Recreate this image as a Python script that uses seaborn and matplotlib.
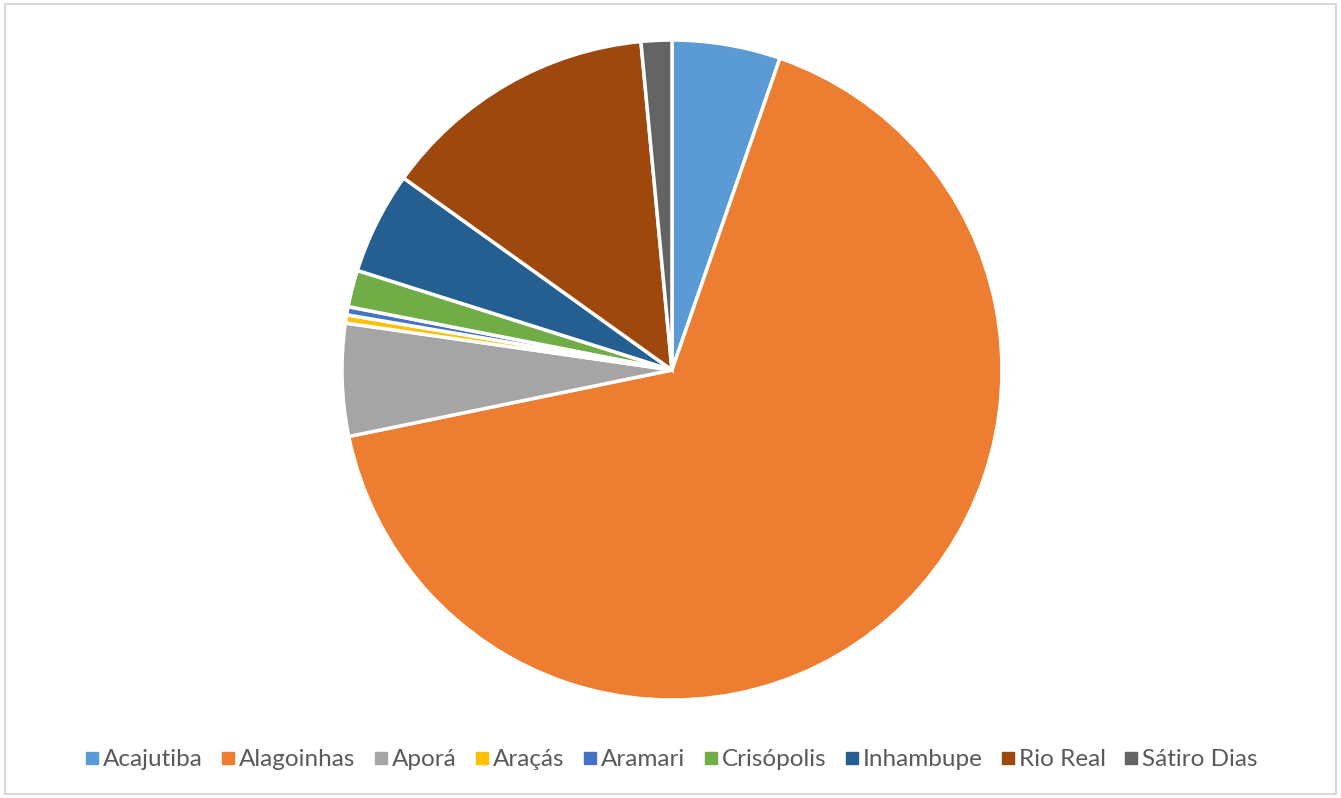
import seaborn as sns
import matplotlib.pyplot as plt
from matplotlib.patches import Rectangle
from matplotlib.lines import Line2D

# Data (shares in %)
cities = ['Acajutiba', 'Alagoinhas', 'Aporá', 'Araçás', 'Aramari',
          'Crisópolis', 'Inhambupe', 'Rio Real', 'Sátiro Dias']
shares = [5.3, 66.4, 5.5, 0.4, 0.4, 1.8, 5.0, 13.6, 1.5]
colors = ['#5B9BD5', '#ED7D31', '#A5A5A5', '#FFC000', '#4472C4',
          '#70AD47', '#255E91', '#9E480E', '#636363']

sns.set_theme(style='white')
plt.rcParams['font.family'] = ['Lato', 'DejaVu Sans']

fig = plt.figure(figsize=(13.41, 7.98), dpi=100)
fig.patches.append(Rectangle((0.004, 0.005), 0.992, 0.99, transform=fig.transFigure,
                             fill=False, edgecolor='#D9D9D9', linewidth=1.5))

ax = fig.add_axes([0.255, 0.1228, 0.4922, 0.827])
ax.pie(shares, colors=colors, startangle=90, counterclock=False, radius=1,
       wedgeprops=dict(edgecolor='white', linewidth=2.5))
ax.set_xlim(-1.0, 1.0)
ax.set_ylim(-1.0, 1.0)
ax.axis('off')

handles = [Line2D([0], [0], marker='s', linestyle='', markersize=8,
                  markerfacecolor=c, markeredgecolor=c) for c in colors]
fig.legend(handles, cities, loc='center', bbox_to_anchor=(0.5, 0.048), ncol=len(cities),
           frameon=False, fontsize=17.5, handletextpad=0.1, columnspacing=0.7,
           handlelength=0.7, labelcolor='#595959')

fig.savefig('out.png', dpi=100)
